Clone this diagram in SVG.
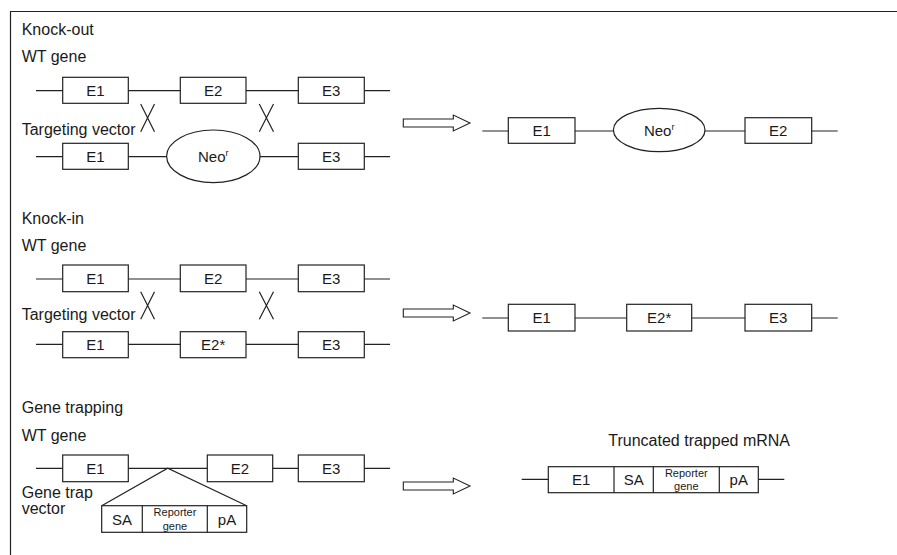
<svg xmlns="http://www.w3.org/2000/svg" width="897" height="555" viewBox="0 0 897 555">
<style>
text{font-family:"Liberation Sans",Arial,sans-serif;fill:#1a1a1a;font-size:15px}
.lb{font-size:16px}
.c{text-anchor:middle}
.sm{font-size:11px}
.ln{stroke:#222;stroke-width:1.2;fill:none}
.bx{stroke:#222;stroke-width:1.2;fill:#fff}
.ar{stroke:#222;stroke-width:1.1;fill:#fff}
</style>
<defs>
<path id="arrow" class="ar" d="M0,-4 H50 V-8 L66.7,0 L50,8 V4 H0 Z"/>
</defs>
<rect width="897" height="555" fill="#fff"/>
<path class="ln" d="M10.5,555 V11.5 H897" stroke-width="1.5"/>

<g id="labels">
<text class="lb" x="21.7" y="35">Knock-out</text>
<text class="lb" x="21.7" y="62">WT gene</text>
<text class="lb" x="21.7" y="135">Targeting vector</text>
<text class="lb" x="21.7" y="223.5">Knock-in</text>
<text class="lb" x="21.7" y="250.5">WT gene</text>
<text class="lb" x="21.7" y="319.5">Targeting vector</text>
<text class="lb" x="21.7" y="413">Gene trapping</text>
<text class="lb" x="21.7" y="440.5">WT gene</text>
<text class="lb" x="21.7" y="498">Gene trap</text>
<text class="lb" x="21.7" y="513.5">vector</text>
<text class="lb" x="608.3" y="446">Truncated trapped mRNA</text>
</g>

<g id="connectors">
<!-- backbones -->
<line class="ln" x1="36" y1="90.7" x2="390" y2="90.7"/>
<line class="ln" x1="36" y1="156.7" x2="390" y2="156.7"/>
<line class="ln" x1="482.3" y1="131" x2="837.7" y2="131"/>
<line class="ln" x1="36" y1="279" x2="390" y2="279"/>
<line class="ln" x1="36" y1="344.3" x2="390" y2="344.3"/>
<line class="ln" x1="482.3" y1="318" x2="837.7" y2="318"/>
<line class="ln" x1="36" y1="468.3" x2="390" y2="468.3"/>
<line class="ln" x1="521.7" y1="479.3" x2="784.3" y2="479.3"/>
<!-- crossovers -->
<path class="ln" d="M140.7,104 L154.5,131.7 M154.5,104 L140.7,131.7"/>
<path class="ln" d="M259.3,104 L273.5,131.7 M273.5,104 L259.3,131.7"/>
<path class="ln" d="M140.7,291.7 L154.5,319.3 M154.5,291.7 L140.7,319.3"/>
<path class="ln" d="M259.3,291.7 L273.5,319.3 M273.5,291.7 L259.3,319.3"/>
<!-- insertion triangle -->
<path class="ln" d="M101.7,505.7 L167.7,468.3 L246.7,505.7"/>
<!-- arrows -->
<use href="#arrow" x="403.3" y="123"/>
<use href="#arrow" x="403.3" y="313"/>
<use href="#arrow" x="403.3" y="486"/>
</g>

<!-- Knock-out WT -->
<g id="ko-wt-e1"><rect class="bx" x="62.7" y="77.3" width="65.6" height="26"/><text class="c" x="95.5" y="96">E1</text></g>
<g id="ko-wt-e2"><rect class="bx" x="180.3" y="77.3" width="65.7" height="26"/><text class="c" x="213.2" y="96">E2</text></g>
<g id="ko-wt-e3"><rect class="bx" x="298.3" y="77.3" width="66" height="26"/><text class="c" x="331.3" y="96">E3</text></g>
<!-- Knock-out vector -->
<g id="ko-tv-e1"><rect class="bx" x="62.7" y="143.3" width="65.6" height="26"/><text class="c" x="95.5" y="162">E1</text></g>
<g id="ko-tv-neo"><ellipse class="bx" cx="213.3" cy="156.3" rx="46.7" ry="26.3"/><text class="c" x="213.3" y="162">Neo<tspan font-size="9" dy="-6">r</tspan></text></g>
<g id="ko-tv-e3"><rect class="bx" x="298.3" y="143.3" width="66" height="26"/><text class="c" x="331.3" y="162">E3</text></g>
<!-- Knock-out result -->
<g id="ko-res-e1"><rect class="bx" x="508.3" y="117.7" width="66.7" height="25.6"/><text class="c" x="541.7" y="136">E1</text></g>
<g id="ko-res-neo"><ellipse class="bx" cx="659.2" cy="130" rx="45.8" ry="21.7"/><text class="c" x="659.2" y="135.5">Neo<tspan font-size="9" dy="-6">r</tspan></text></g>
<g id="ko-res-e2"><rect class="bx" x="745" y="117.7" width="66.7" height="25.6"/><text class="c" x="778.3" y="136">E2</text></g>

<!-- Knock-in WT -->
<g id="ki-wt-e1"><rect class="bx" x="62.7" y="265" width="65.6" height="26.7"/><text class="c" x="95.5" y="284">E1</text></g>
<g id="ki-wt-e2"><rect class="bx" x="180.3" y="265" width="65.7" height="26.7"/><text class="c" x="213.2" y="284">E2</text></g>
<g id="ki-wt-e3"><rect class="bx" x="298.3" y="265" width="66" height="26.7"/><text class="c" x="331.3" y="284">E3</text></g>
<!-- Knock-in vector -->
<g id="ki-tv-e1"><rect class="bx" x="62.7" y="331.7" width="65.6" height="26"/><text class="c" x="95.5" y="350">E1</text></g>
<g id="ki-tv-e2s"><rect class="bx" x="180.3" y="331.7" width="65.7" height="26"/><text class="c" x="213.2" y="350">E2*</text></g>
<g id="ki-tv-e3"><rect class="bx" x="298.3" y="331.7" width="66" height="26"/><text class="c" x="331.3" y="350">E3</text></g>
<!-- Knock-in result -->
<g id="ki-res-e1"><rect class="bx" x="508.3" y="304.3" width="66.7" height="26.7"/><text class="c" x="541.7" y="323">E1</text></g>
<g id="ki-res-e2s"><rect class="bx" x="626.7" y="304.3" width="65" height="26.7"/><text class="c" x="659.2" y="323">E2*</text></g>
<g id="ki-res-e3"><rect class="bx" x="745" y="304.3" width="66.7" height="26.7"/><text class="c" x="778.3" y="323">E3</text></g>

<!-- Gene trapping WT -->
<g id="gt-wt-e1"><rect class="bx" x="62.7" y="455" width="65.6" height="26.7"/><text class="c" x="95.5" y="474">E1</text></g>
<g id="gt-wt-e2"><rect class="bx" x="207.3" y="455" width="65.4" height="26.7"/><text class="c" x="240" y="474">E2</text></g>
<g id="gt-wt-e3"><rect class="bx" x="298.3" y="455" width="66" height="26.7"/><text class="c" x="331.3" y="474">E3</text></g>
<!-- Gene trap vector -->
<g id="gt-vector">
<rect class="bx" x="101.7" y="505.7" width="145" height="26.6"/>
<line class="ln" x1="142.3" y1="505.7" x2="142.3" y2="532.3"/>
<line class="ln" x1="207.3" y1="505.7" x2="207.3" y2="532.3"/>
<text class="c" x="122" y="524.5">SA</text>
<text class="c sm" x="175" y="516">Reporter</text>
<text class="c sm" x="175" y="529.5">gene</text>
<text class="c" x="227" y="524.5">pA</text>
</g>
<!-- Truncated trapped mRNA -->
<g id="gt-mrna">
<rect class="bx" x="548.3" y="466.7" width="210" height="26"/>
<line class="ln" x1="614" y1="466.7" x2="614" y2="492.7"/>
<line class="ln" x1="653.3" y1="466.7" x2="653.3" y2="492.7"/>
<line class="ln" x1="719.3" y1="466.7" x2="719.3" y2="492.7"/>
<text class="c" x="581.2" y="485">E1</text>
<text class="c" x="633.7" y="485">SA</text>
<text class="c sm" x="686.3" y="476.5">Reporter</text>
<text class="c sm" x="686.3" y="490">gene</text>
<text class="c" x="738.8" y="485">pA</text>
</g>
</svg>
